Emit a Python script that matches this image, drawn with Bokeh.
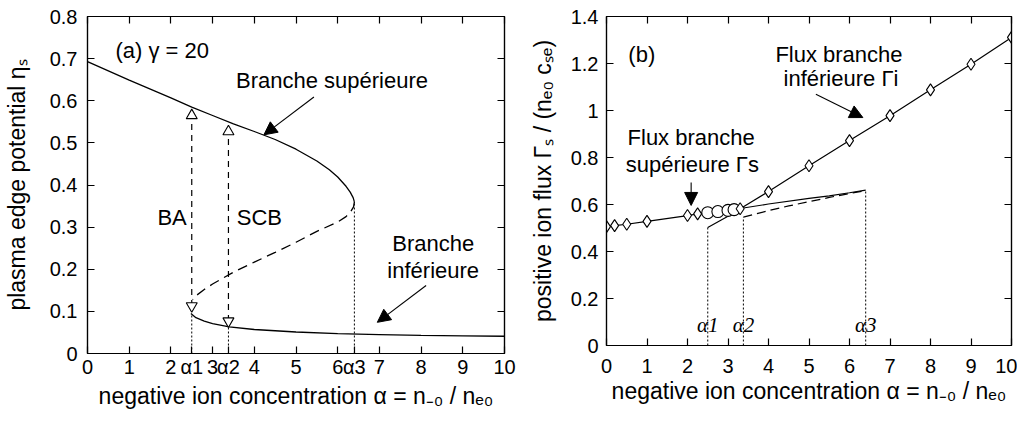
from bokeh.plotting import figure
from bokeh.layouts import row
from bokeh.models import (Range1d, LinearAxis, FixedTicker, NumeralTickFormatter,
                          Label, Arrow, NormalHead)
from bokeh.embed import file_html
from bokeh.resources import INLINE

# ---------------- shared ticks / markers ----------------
x_ticks = [0, 1, 2, 3, 4, 5, 6, 7, 8, 9, 10]
a_y_ticks = [0, 0.1, 0.2, 0.3, 0.4, 0.5, 0.6, 0.7, 0.8]
b_y_ticks = [0, 0.2, 0.4, 0.6, 0.8, 1.0, 1.2, 1.4]

alpha_marks = [2.5, 3.38, 6.4]
alpha_names = ["α1", "α2", "α3"]

# ---------------- data: panel (a) ----------------
upper_x = [0, 1, 2, 2.5, 3, 3.5, 4, 4.5, 5, 5.5, 5.8, 6.0, 6.2, 6.3, 6.37, 6.4]
upper_y = [0.693, 0.649, 0.607, 0.585, 0.565, 0.545, 0.527, 0.508, 0.485, 0.457,
           0.436, 0.419, 0.397, 0.383, 0.370, 0.360]
middle_x = [6.4, 6.38, 6.3, 6.2, 6.0, 5.5, 5.0, 4.5, 4.0, 3.5, 3.0, 2.8, 2.6, 2.52]
middle_y = [0.360, 0.348, 0.335, 0.325, 0.312, 0.290, 0.264, 0.240, 0.217, 0.193,
            0.165, 0.152, 0.137, 0.128]
lower_x = [2.48, 2.6, 2.8, 3.0, 3.4, 4, 5, 6, 7, 8, 9, 10]
lower_y = [0.095, 0.085, 0.077, 0.071, 0.063, 0.057, 0.051, 0.047, 0.045, 0.043, 0.042, 0.041]

jump_x = [2.5, 3.38]
jump_up_y = [0.565, 0.527]
jump_down_y = [0.113, 0.077]
foot_top_a = [0.095, 0.063, 0.360]

# ---------------- data: panel (b) ----------------
flux_x = [0, 0.2, 0.5, 1, 2, 2.25, 3.3, 4, 5, 6, 7, 8, 9, 10]
flux_y = [0.506, 0.510, 0.516, 0.528, 0.553, 0.560, 0.582, 0.655, 0.765, 0.872,
          0.978, 1.088, 1.197, 1.311]
circ_x = [2.5, 2.75, 3.0, 3.15]
circ_y = [0.565, 0.570, 0.575, 0.578]
sup_x = [3.3, 4, 5, 5.5, 6, 6.4]
sup_y = [0.583, 0.602, 0.626, 0.637, 0.650, 0.661]
inf_x = [2.5, 2.8, 3.1, 3.3]
inf_y = [0.502, 0.531, 0.560, 0.579]
dash_x = [3.38, 4, 4.5, 5, 5.5, 6, 6.4]
dash_y = [0.546, 0.574, 0.594, 0.612, 0.630, 0.647, 0.659]
foot_top_b = [0.502, 0.546, 0.661]

FONT = "Liberation Sans"
TICK_FS = "20px"
TITLE_FS = "23px"
ANN_FS = "22px"


def style(p, xticks, yticks, fmt, ts_x, ts_y, ls_x, ls_y, overrides=None):
    p.xgrid.visible = False
    p.ygrid.visible = False
    p.outline_line_color = "black"
    p.outline_line_width = 1.2
    p.background_fill_color = "white"
    p.border_fill_color = "white"
    for ax, ticks, ts in ((p.xaxis[0], xticks, ts_x), (p.yaxis[0], yticks, ts_y)):
        ax.ticker = FixedTicker(ticks=ticks)
        ax.major_tick_in = 7
        ax.major_tick_out = 0
        ax.minor_tick_in = 0
        ax.minor_tick_out = 0
        ax.axis_line_width = 1.2
        ax.major_tick_line_width = 1.2
        ax.major_label_text_font = FONT
        ax.major_label_text_font_size = TICK_FS
        ax.major_label_text_color = "black"
        ax.major_label_standoff = ts
        ax.axis_label_text_font = FONT
        ax.axis_label_text_font_size = TITLE_FS
        ax.axis_label_text_font_style = "normal"
        ax.axis_label_text_color = "black"
    p.xaxis[0].formatter = NumeralTickFormatter(format="0")
    p.yaxis[0].formatter = NumeralTickFormatter(format=fmt)
    if overrides:
        p.xaxis[0].major_label_overrides = overrides
    p.xaxis[0].axis_label_standoff = ls_x
    p.yaxis[0].axis_label_standoff = ls_y
    for loc, ticks in (("above", x_ticks), ("right", yticks)):
        ax = LinearAxis(ticker=FixedTicker(ticks=ticks), major_tick_in=7, major_tick_out=0,
                        minor_tick_in=0, minor_tick_out=0, major_label_text_font_size="0px",
                        major_label_standoff=0, axis_line_width=1.2, major_tick_line_width=1.2)
        p.add_layout(ax, loc)


def add_label(p, x, y, text, align="left", font=FONT, style_="normal", size=ANN_FS, **kw):
    lab = Label(x=x, y=y, text=text, text_font=font, text_font_size=size,
                text_font_style=style_, text_align=align, text_baseline="middle",
                text_color="black", **kw)
    p.add_layout(lab)


def add_arrow(p, x0, y0, x1, y1):
    p.add_layout(Arrow(x_start=x0, y_start=y0, x_end=x1, y_end=y1, line_width=1.1,
                       line_color="black",
                       end=NormalHead(size=13, fill_color="black", line_color="black")))


# ---------------- panel (a) ----------------
pa = figure(frame_width=417, frame_height=337, x_range=Range1d(0, 10), y_range=Range1d(0, 0.8),
            output_backend="svg", toolbar_location=None,
            min_border_left=81, min_border_right=13, min_border_top=13, min_border_bottom=60)
pa.xaxis.axis_label = "negative ion concentration α = n₋₀ / nₑ₀"
pa.yaxis.axis_label = "plasma edge potential ηₛ"
a_overrides = {xx: nm for xx, nm in zip(alpha_marks, alpha_names)}
style(pa, x_ticks + alpha_marks, a_y_ticks, "0.[0]", 2, 10, 2, 17, overrides=a_overrides)

pa.line(upper_x, upper_y, line_color="black", line_width=1.3)
pa.line(middle_x, middle_y, line_color="black", line_width=1.3, line_dash="10 6")
pa.line(lower_x, lower_y, line_color="black", line_width=1.3)

for xx, yt in zip(alpha_marks, foot_top_a):
    pa.line([xx, xx], [0, yt], line_color="black", line_width=1, line_dash="2 2")
for xx, yu, yd in zip(jump_x, jump_up_y, jump_down_y):
    pa.line([xx, xx], [yd, yu], line_color="black", line_width=1.2, line_dash="6 5")
pa.scatter(jump_x, jump_up_y, marker="triangle", size=11, fill_color="white",
           line_color="black", line_width=1.1)
pa.scatter(jump_x, jump_down_y, marker="inverted_triangle", size=11, fill_color="white",
           line_color="black", line_width=1.1)

add_label(pa, 0.67, 0.72, "(a) γ = 20")
add_label(pa, 3.56, 0.648, "Branche supérieure")
add_label(pa, 8.29, 0.261, "Branche", align="center")
add_label(pa, 8.29, 0.197, "inférieure", align="center")
add_label(pa, 2.38, 0.323, "BA", align="right")
add_label(pa, 3.58, 0.323, "SCB")
add_arrow(pa, 5.43, 0.609, 4.23, 0.519)
add_arrow(pa, 8.12, 0.1615, 6.95, 0.074)

# ---------------- panel (b) ----------------
pb = figure(frame_width=405, frame_height=329, x_range=Range1d(0, 10), y_range=Range1d(0, 1.4),
            output_backend="svg", toolbar_location=None,
            min_border_left=89, min_border_right=6, min_border_top=16, min_border_bottom=68)
pb.xaxis.axis_label = "negative ion concentration α = n₋₀ / nₑ₀"
pb.yaxis.axis_label = "positive ion flux Γₛ / (nₑ₀ cₛₑ)"
style(pb, x_ticks, b_y_ticks, "0.[0]", 13, 8, 2, 12)

for xx, yt in zip(alpha_marks, foot_top_b):
    pb.line([xx, xx], [0, yt], line_color="black", line_width=1, line_dash="2 2")
pb.line(flux_x, flux_y, line_color="black", line_width=1.2)
pb.line(sup_x, sup_y, line_color="black", line_width=1.2)
pb.line(inf_x, inf_y, line_color="black", line_width=1.2)
pb.line(dash_x, dash_y, line_color="black", line_width=1.2, line_dash="9 5")
pb.scatter(circ_x, circ_y, marker="circle", size=12, fill_color="white",
           line_color="black", line_width=1.1)
pb.scatter(flux_x, flux_y, marker="diamond", size=12, fill_color="white",
           line_color="black", line_width=1.1)

for xx, nm in zip(alpha_marks, alpha_names):
    add_label(pb, xx, 0.089, nm, align="center", font="Liberation Serif", style_="italic",
              size="21px")

add_label(pb, 0.54, 1.238, "(b)")
add_label(pb, 5.74, 1.238, "Flux branche", align="center")
add_label(pb, 5.79, 1.136, "inférieure Γi", align="center")
add_label(pb, 2.09, 0.885, "Flux branche", align="center")
add_label(pb, 2.12, 0.770, "supérieure Γs", align="center")
add_arrow(pb, 2.09, 0.694, 2.09, 0.596)
add_arrow(pb, 5.17, 1.069, 6.33, 0.97)

layout = row(pa, pb)
open("out.html", "w").write(file_html(layout, INLINE))
